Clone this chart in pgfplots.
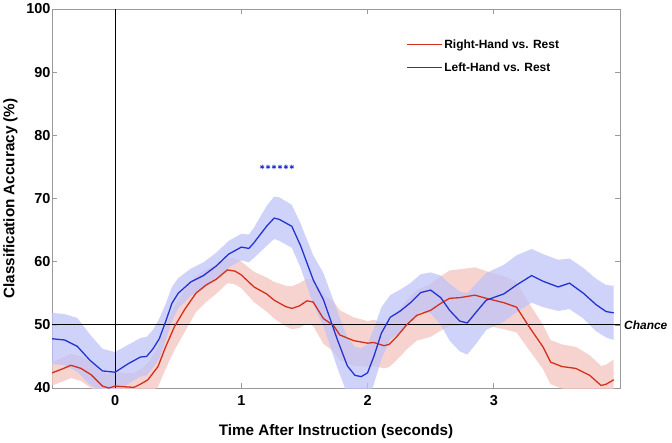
\documentclass[border=0pt]{standalone}
\usepackage{pgfplots}
\pgfplotsset{compat=1.18}
\usepgfplotslibrary{fillbetween}
\usepackage{pgfplotstable}
\usepackage{fontspec}
\setmainfont{Liberation Sans}

\definecolor{rline}{HTML}{D2301C}
\definecolor{bline}{HTML}{2233D2}
\definecolor{rband}{HTML}{F4C8C3}
\definecolor{bband}{HTML}{BFC4F8}
\definecolor{axisgray}{HTML}{9A9A9A}

% x, mean, upper, lower
\pgfplotstableread{
x     m     up    lo
-0.50 42.4  44.1  40.4
-0.42 43.0  44.8  41.0
-0.35 43.6  45.4  41.6
-0.27 43.1  45.0  41.1
-0.19 42.1  44.1  40.0
-0.10 40.3  42.4  38.3
-0.05 40.0  42.2  38.0
0.00  40.3  42.5  38.3
0.07  40.2  42.4  38.2
0.15  40.1  42.4  38.0
0.20  40.6  43.0  38.5
0.26  41.3  44.0  38.8
0.34  43.4  46.5  40.2
0.40  46.5  49.8  43.0
0.47  49.7  53.0  46.0
0.55  52.4  55.5  48.8
0.64  55.0  57.7  52.0
0.72  56.3  58.8  53.6
0.80  57.2  59.4  54.9
0.89  58.7  60.6  56.6
0.95  58.5  60.5  56.4
1.00  57.9  60.0  55.8
1.10  56.0  58.4  53.6
1.20  54.9  57.5  52.1
1.26  53.9  56.8  51.0
1.35  52.9  56.2  49.8
1.40  52.6  56.1  49.3
1.46  53.0  56.6  49.5
1.52  53.8  57.3  50.2
1.57  53.6  57.1  49.8
1.65  51.0  54.8  47.0
1.73  49.9  53.7  45.8
1.78  48.4  52.3  44.4
1.89  47.5  51.2  43.5
2.00  47.1  50.6  43.4
2.05  47.2  50.8  43.5
2.13  46.7  50.3  43.1
2.17  46.9  50.5  43.3
2.23  48.1  51.8  44.4
2.31  50.0  53.9  46.1
2.39  51.5  55.5  47.5
2.50  52.3  56.5  48.1
2.58  53.4  57.7  49.1
2.65  54.2  58.6  49.8
2.73  54.3  58.8  49.8
2.85  54.7  59.1  50.3
2.94  54.2  58.5  49.9
3.08  53.5  57.7  49.3
3.18  52.8  56.8  48.8
3.28  49.7  53.4  46.0
3.39  46.5  50.0  43.0
3.45  44.1  47.6  40.6
3.54  43.4  46.9  39.9
3.65  43.1  46.5  39.7
3.76  42.0  45.2  38.8
3.85  40.4  43.5  37.3
3.89  40.6  43.7  37.5
3.95  41.3  44.5  38.1
}\righttab

\pgfplotstableread{
x     m     up    lo
-0.50 47.8  51.9  43.8
-0.40 47.6  51.7  43.6
-0.30 46.6  51.1  42.6
-0.20 44.4  48.5  40.5
-0.10 42.7  46.2  39.5
0.00  42.5  45.7  39.5
0.10  43.8  46.8  40.6
0.20  44.9  47.9  41.8
0.25  45.0  48.1  42.0
0.30  46.2  49.2  43.2
0.35  47.8  51.0  44.6
0.40  50.5  53.3  47.5
0.45  53.4  56.0  50.6
0.50  55.0  57.4  52.6
0.60  56.8  58.9  54.6
0.70  57.8  59.9  55.7
0.80  59.3  61.4  57.2
0.90  61.2  63.3  59.1
1.00  62.3  64.4  60.2
1.06  62.1  64.3  59.9
1.10  63.0  65.4  60.6
1.20  65.6  68.8  62.5
1.26  66.9  70.3  63.6
1.30  66.7  70.2  63.3
1.40  65.6  69.0  62.2
1.47  62.5  66.0  59.0
1.57  57.1  61.0  53.2
1.65  54.0  58.2  49.8
1.72  50.0  54.4  45.6
1.76  47.7  52.2  43.2
1.84  43.5  48.0  39.0
1.90  42.0  46.5  37.5
1.95  41.8  46.3  37.3
2.00  42.4  46.9  37.9
2.05  45.0  49.4  40.6
2.11  48.7  52.8  44.6
2.18  51.2  54.7  47.7
2.26  52.2  55.6  48.8
2.34  53.5  56.6  50.4
2.42  55.1  58.0  52.2
2.50  55.5  58.3  51.8
2.58  54.3  57.8  50.0
2.65  52.3  56.5  47.5
2.73  50.6  55.3  45.8
2.79  50.3  55.0  45.3
2.86  52.0  56.5  47.0
2.94  53.9  58.2  49.2
3.08  54.9  59.5  50.5
3.18  56.3  61.0  52.0
3.30  57.8  62.0  53.5
3.39  56.9  61.2  52.8
3.51  56.0  60.3  52.2
3.60  56.6  60.5  52.5
3.71  55.0  59.0  51.0
3.81  53.2  57.3  49.0
3.89  52.1  56.3  48.0
3.95  51.9  56.2  47.6
}\lefttab

\begin{document}
\begin{tikzpicture}
\begin{axis}[
  scale only axis,
  width=568bp, height=379bp,
  xmin=-0.5, xmax=4.0,
  ymin=40, ymax=100,
  xtick={0,1,2,3},
  ytick={40,50,...,100},
  clip mode=individual,
  axis line style={axisgray, line width=0.8pt},
  tick style={axisgray, line width=0.6pt},
  tick align=inside,
  major tick length=5bp,
  /pgf/number format/assume math mode=true,
  tick label style={font=\bfseries\fontsize{14.5}{16}\selectfont},
  xticklabel style={yshift=-4bp},
  yticklabel style={xshift=2bp},
  xlabel={Time After Instruction (seconds)},
  ylabel={Classification Accuracy (\%)},
  label style={font=\bfseries\fontsize{15.3}{17}\selectfont},
  xlabel style={yshift=-12bp},
  ylabel style={yshift=2bp},
  legend style={draw=none, fill=none, at={(0.618,0.942)}, anchor=north west,
    font=\bfseries\fontsize{12}{14}\selectfont,
    nodes={inner sep=1.5bp, minimum height=23bp}},
  legend cell align=left,
]
% legend
\addlegendimage{legend image code/.code={\draw[draw=rline, line width=1.6pt] (0bp,0bp) -- (35bp,0bp);}}
\addlegendentry{Right-Hand vs. Rest}
\addlegendimage{legend image code/.code={\draw[draw=bline, line width=1.6pt] (0bp,0bp) -- (35bp,0bp);}}
\addlegendentry{Left-Hand vs. Rest}
% bands
\addplot[name path=ru, draw=none, forget plot] table[x=x, y=up] {\righttab};
\addplot[name path=rl, draw=none, forget plot] table[x=x, y=lo] {\righttab};
\addplot[rband, fill opacity=0.8, forget plot] fill between[of=ru and rl];
\addplot[name path=bu, draw=none, forget plot] table[x=x, y=up] {\lefttab};
\addplot[name path=bl, draw=none, forget plot] table[x=x, y=lo] {\lefttab};
\addplot[bband, fill opacity=0.75, forget plot] fill between[of=bu and bl];
% reference lines
\addplot[black, line width=1pt, forget plot] coordinates {(0,40) (0,100)};
\addplot[black, line width=1pt, forget plot] coordinates {(-0.5,50) (4.0,50)};
% means
\addplot[color=rline, line width=1.3pt, forget plot] table[x=x, y=m] {\righttab};
\addplot[color=bline, line width=1.3pt, forget plot] table[x=x, y=m] {\lefttab};
% significance
\addplot[only marks, mark=asterisk, mark size=2.3pt, bline, line width=0.8pt, forget plot]
  coordinates {(1.165,75) (1.212,75) (1.259,75) (1.306,75) (1.353,75) (1.400,75)};
\node[anchor=west, font=\bfseries\itshape\fontsize{12}{14}\selectfont, inner sep=0pt]
  at (axis cs:4.0,50) {\hspace{4bp}Chance};
\end{axis}
\path (-52bp,-52bp) rectangle (620bp,388bp);
\end{tikzpicture}
\end{document}
